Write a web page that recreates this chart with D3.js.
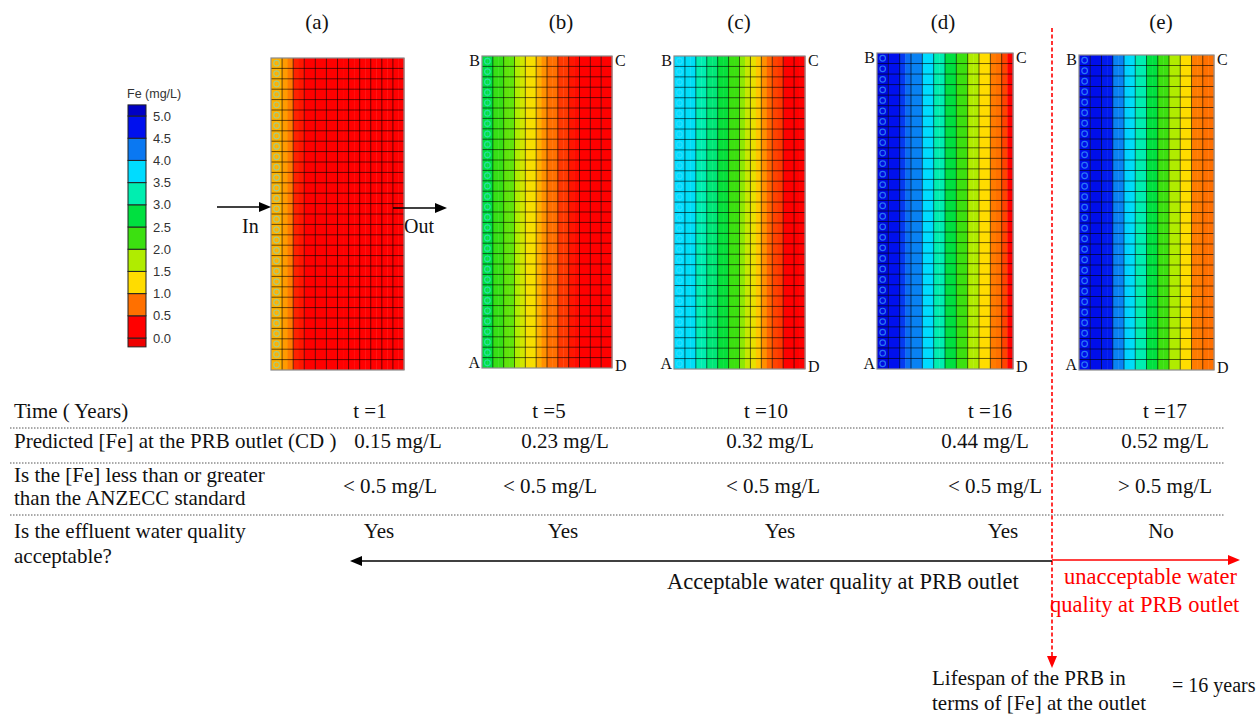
<!DOCTYPE html>
<html>
<head>
<meta charset="utf-8">
<script src="https://cdn.jsdelivr.net/npm/d3@7"></script>
<style>
  body { margin: 0; background: #fff; }
  svg { display: block; }
  .serif { font-family: "Liberation Serif", "Times New Roman", serif; fill: #111; }
  .sans { font-family: "Liberation Sans", Arial, sans-serif; fill: #333; }
</style>
</head>
<body>
<svg id="fig" width="1258" height="715"></svg>
<script>
// ---- data ----
var panelLabels = ["(a)", "(b)", "(c)", "(d)", "(e)"]
var times = ["t =1", "t =5", "t =10", "t =16", "t =17"]
var outletFe = ["0.15 mg/L", "0.23 mg/L", "0.32 mg/L", "0.44 mg/L", "0.52 mg/L"]
var vsStandard = ["< 0.5 mg/L", "< 0.5 mg/L", "< 0.5 mg/L", "< 0.5 mg/L", "> 0.5 mg/L"]
var acceptable = ["Yes", "Yes", "Yes", "Yes", "No"]
var rowNames = [["Time ( Years)"], ["Predicted [Fe] at the PRB outlet (CD )"],
  ["Is the [Fe] less than or greater", "than the ANZECC standard"],
  ["Is the effluent water quality", "acceptable?"]]

// legend: tick values and band colours (bottom band below 0 up to top band above 5)
var legendTicks = [5.0, 4.5, 4.0, 3.5, 3.0, 2.5, 2.0, 1.5, 1.0, 0.5, 0.0]
var legendStops = [-0.2, 0, 0.5, 1, 1.5, 2, 2.5, 3, 3.5, 4, 4.5, 5, 5.25]
var bandColors = ["#ee0000", "#ff0000", "#ff7000", "#ffdc00", "#b0ec00", "#3ce010",
  "#00e040", "#00eeb0", "#00dcff", "#0a78f2", "#0010ee", "#0000c4"]

// Fe (mg/L) in each half column, from inlet AB to outlet CD
var feA = [1.05, 1.05, 0.95, 0.8, 0.4, 0.35, 0.15, 0.15, 0.15, 0.15, 0.15, 0.15,
  0.15, 0.15, 0.15, 0.15, 0.15, 0.15, 0.15, 0.15, 0.15, 0.15, 0.15, 0.15]
var feB = [2.75, 2.75, 2.3, 2.3, 2.1, 2.1, 1.75, 1.55, 1.3, 1.3, 1.05, 0.9,
  0.75, 0.75, 0.5, 0.5, 0.35, 0.3, 0.2, 0.2, 0.15, 0.15, 0.15, 0.15]
var feC = [3.75, 3.75, 3.7, 3.7, 3.25, 3.25, 3.0, 3.0, 2.7, 2.7, 2.25, 2.25,
  1.9, 1.6, 1.4, 1.15, 0.9, 0.7, 0.55, 0.5, 0.25, 0.25, 0.2, 0.2]
var feD = [4.9, 4.9, 4.75, 4.75, 4.55, 4.3, 4.2, 4.2, 3.75, 3.75, 3.25, 3.25,
  2.75, 2.75, 2.25, 2.25, 1.75, 1.75, 1.25, 1.25, 0.8, 0.75, 0.55, 0.2]
var feE = [4.8, 4.8, 4.8, 4.8, 4.7, 4.7, 4.2, 4.2, 3.8, 3.7, 3.25, 3.25,
  2.75, 2.75, 2.25, 2.25, 1.75, 1.75, 1.25, 1.25, 0.8, 0.8, 0.75, 0.75]
var panelFe = [feA, feB, feC, feD, feE]
var nCols = 12, nRows = 30

// ---- layout ----
var panelBox = [
  {x0: 271, x1: 404, y0: 58, y1: 370, letters: false},
  {x0: 482, x1: 612, y0: 56, y1: 368, letters: true},
  {x0: 674, x1: 805, y0: 56, y1: 369, letters: true},
  {x0: 877, x1: 1013, y0: 53, y1: 369, letters: true},
  {x0: 1079, x1: 1214, y0: 55, y1: 370, letters: true}
]
var titleX = [317, 561, 739, 943, 1161]
var colX = {
  t: [370, 549, 766, 990, 1165],
  fe: [398, 565, 770, 985, 1165],
  std: [390, 550, 773, 995, 1165],
  ok: [379, 563, 780, 1003, 1161]
}

var svg = d3.select("#fig")

// colour of a value: linear between band middles
var mids = legendStops.slice(1, -1).map(function(s) { return s + 0.25 })
mids.push(5.15)
var feColor = d3.scaleLinear().domain(mids).range(bandColors.slice(1)).clamp(true)

function arrow(x1, y1, x2, y2, col, dash) {
  var a = Math.atan2(y2 - y1, x2 - x1), L = 12, W = 5
  var bx = x2 - L * Math.cos(a), by = y2 - L * Math.sin(a)
  svg.append("line").attr("x1", x1).attr("y1", y1).attr("x2", bx).attr("y2", by)
    .attr("stroke", col).attr("stroke-width", dash ? 1.6 : 1.3)
    .attr("stroke-dasharray", dash ? "4,2.5" : null)
  svg.append("path")
    .attr("d", "M" + x2 + "," + y2 + "L" + (bx - W * Math.sin(a)) + "," + (by + W * Math.cos(a)) +
      "L" + (bx + W * Math.sin(a)) + "," + (by - W * Math.cos(a)) + "Z")
    .attr("fill", col)
}

function serif(x, y, size, t, anchor, col) {
  return svg.append("text").attr("class", "serif").attr("x", x).attr("y", y)
    .attr("text-anchor", anchor || "start").style("font-size", size + "px")
    .style("fill", col || null).text(t)
}

// ---- legend ----
var ly = d3.scaleLinear().domain([0, 5]).range([338, 116])
var leg = svg.append("g")
leg.append("text").attr("class", "sans").attr("x", 127).attr("y", 98)
  .style("font-size", "12.5px").style("fill", "#333").text("Fe (mg/L)")
leg.selectAll("rect").data(bandColors).enter().append("rect")
  .attr("x", 128).attr("width", 18)
  .attr("y", function(d, i) { return ly(legendStops[i + 1]) })
  .attr("height", function(d, i) { return ly(legendStops[i]) - ly(legendStops[i + 1]) })
  .attr("fill", function(d) { return d })
  .attr("stroke", "#222").attr("stroke-width", 1)
leg.selectAll("text.tick").data(legendTicks).enter().append("text")
  .attr("class", "sans tick").attr("x", 153).attr("y", function(d) { return ly(d) + 4.5 })
  .style("font-size", "13px").text(function(d) { return d.toFixed(1) })

// ---- panels ----
panelFe.forEach(function(vals, i) {
  var b = panelBox[i]
  var x = d3.scaleLinear().domain([0, nCols * 2]).range([b.x0, b.x1])
  var y = d3.scaleLinear().domain([0, nRows]).range([b.y0, b.y1])
  var g = svg.append("g")
  g.selectAll("rect.strip").data(vals).enter().append("rect")
    .attr("x", function(d, j) { return x(j) })
    .attr("width", function(d, j) { return x(j + 1) - x(j) + 0.4 })
    .attr("y", b.y0).attr("height", b.y1 - b.y0)
    .attr("fill", function(d) { return feColor(d) })
  g.selectAll("line.v").data(d3.range(1, nCols)).enter().append("line")
    .attr("x1", function(k) { return x(2 * k) }).attr("x2", function(k) { return x(2 * k) })
    .attr("y1", b.y0).attr("y2", b.y1)
    .attr("stroke", "#000").attr("stroke-opacity", 0.6).attr("stroke-width", 1)
  g.selectAll("line.h").data(d3.range(1, nRows)).enter().append("line")
    .attr("y1", function(r) { return y(r) }).attr("y2", function(r) { return y(r) })
    .attr("x1", b.x0).attr("x2", b.x1)
    .attr("stroke", "#000").attr("stroke-opacity", 0.6).attr("stroke-width", 1)
  var ringCol = d3.interpolateRgb(feColor(vals[0]), "#50e0ff")(0.5)
  g.selectAll("circle").data(d3.range(nRows)).enter().append("circle")
    .attr("cx", x(1)).attr("cy", function(r) { return y(r + 0.5) }).attr("r", 2.8)
    .attr("fill", "none").attr("stroke", ringCol).attr("stroke-width", 1.2)
  g.append("rect").attr("x", b.x0).attr("y", b.y0)
    .attr("width", b.x1 - b.x0).attr("height", b.y1 - b.y0)
    .attr("fill", "none").attr("stroke", "#8a8a8a").attr("stroke-width", 1.2)

  serif(titleX[i], 29, 21, panelLabels[i], "middle")

  if (b.letters) {
    serif(b.x0 - 2, b.y0 + 10, 16, "B", "end")
    serif(b.x1 + 3, b.y0 + 10, 16, "C")
    serif(b.x0 - 2, b.y1, 16, "A", "end")
    serif(b.x1 + 3, b.y1 + 3, 16, "D")
  }
})

// in / out arrows for panel (a)
arrow(217, 207, 271, 207, "#000")
arrow(393, 208, 447, 208, "#000")
serif(242, 233, 20, "In")
serif(404, 233, 20, "Out")

// ---- table ----
var tfs = 21
var rowBase = [418, 448, 493, 538]
var nameBase = [[418], [448], [482, 505], [538, 563]]
rowNames.forEach(function(lines, r) {
  lines.forEach(function(t, k) { serif(14, nameBase[r][k], tfs, t) })
})
var rowVals = [times, outletFe, vsStandard, acceptable]
var rowX = [colX.t, colX.fe, colX.std, colX.ok]
rowVals.forEach(function(vals, r) {
  svg.selectAll(null).data(vals).enter().append("text")
    .attr("class", "serif").attr("x", function(d, i) { return rowX[r][i] })
    .attr("y", rowBase[r]).attr("text-anchor", "middle")
    .style("font-size", tfs + "px").text(function(d) { return d })
})
svg.selectAll("line.sep").data([428, 463, 515]).enter().append("line")
  .attr("x1", 10).attr("x2", 1225).attr("y1", function(d) { return d }).attr("y2", function(d) { return d })
  .attr("stroke", "#555").attr("stroke-width", 1).attr("stroke-dasharray", "1.5,1.5")

// ---- lifespan annotations ----
arrow(1052, 28, 1052, 668, "#ff0000", true)
arrow(1052, 561, 350, 561, "#000")
arrow(1052, 560, 1240, 560, "#ff0000")
serif(667, 589, 22.5, "Acceptable water quality at PRB outlet")
serif(1064, 584, 22.5, "unacceptable water", "start", "#ff0000")
serif(1050, 612, 22.5, "quality at PRB outlet", "start", "#ff0000")
serif(932, 685, 21, "Lifespan of the PRB in")
serif(932, 710, 21, "terms of [Fe] at the outlet")
serif(1172, 692, 20, "= 16 years")
</script>
</body>
</html>
